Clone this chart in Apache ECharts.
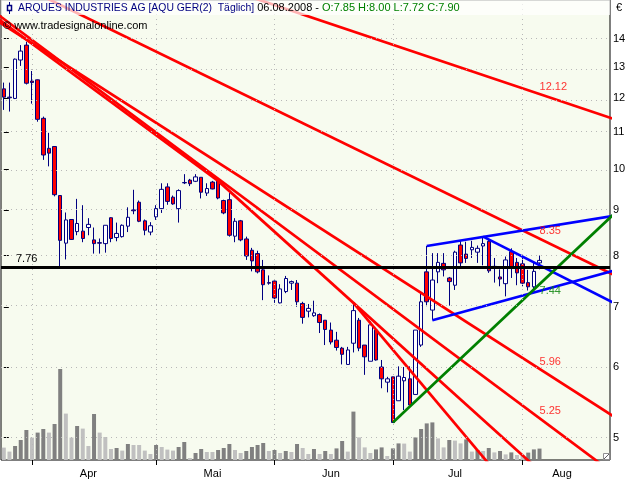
<!DOCTYPE html>
<html><head><meta charset="utf-8">
<script src="https://cdn.jsdelivr.net/npm/echarts@6/dist/echarts.min.js"></script>
<style>html,body{margin:0;padding:0;background:#fff}#c{width:640px;height:480px}</style>
</head><body><div id="c"></div>
<script>
// ---------- data ----------
const dates = [
'03-25','03-26','03-27','03-28','03-31',
'04-01','04-02','04-03','04-04','04-07','04-08','04-09','04-10','04-11','04-14','04-15','04-16','04-17','04-18','04-21','04-22','04-23','04-24','04-25','04-28','04-29','04-30',
'05-02','05-05','05-06','05-07','05-08','05-09','05-12','05-13','05-14','05-15','05-16','05-19','05-20','05-21','05-22','05-23','05-26','05-27','05-28','05-29','05-30',
'06-02','06-03','06-04','06-05','06-06','06-09','06-10','06-11','06-12','06-13','06-16','06-17','06-18','06-19','06-20','06-23','06-24','06-25','06-26','06-27','06-30',
'07-01','07-02','07-03','07-04','07-07','07-08','07-09','07-10','07-11','07-14','07-15','07-16','07-17','07-18','07-21','07-22','07-23','07-24','07-25','07-28','07-29','07-30','07-31',
'08-01','08-04','08-05','08-06',
'08-07','08-08','08-11','08-12','08-13','08-14','08-15','08-18','08-19','08-20','08-21','08-22'];

const opens = [12.30,12.04,12.00,13.25,13.77,12.55,12.59,11.40,10.55,10.60,
9.34,8.26,8.78,8.51,8.52,8.60,8.33,8.27,8.25,8.82,
8.38,8.40,8.63,9.00,9.18,8.75,8.50,8.84,9.03,9.55,
9.30,9.03,9.65,9.72,9.69,9.79,9.40,9.67,9.70,9.22,
9.24,8.41,8.75,8.35,8.11,8.04,7.71,7.46,7.49,7.08,
7.29,7.45,7.45,7.07,6.93,6.85,6.87,6.77,6.60,6.43,
6.30,6.04,6.38,6.77,6.35,6.09,6.60,6.00,5.77,5.85,
5.50,5.79,5.82,5.59,6.35,7.67,6.95,7.67,7.84,7.55,
7.41,8.22,8.03,8.12,8.07,8.20,8.30,7.78,7.57,7.44,
8.08,7.86,7.83,7.46,7.38,7.85];
const highs = [12.50,12.50,13.30,13.77,13.89,12.88,12.60,11.45,10.98,10.60,
9.34,8.94,8.78,9.26,9.11,8.81,8.60,8.36,8.65,8.83,
8.71,8.67,9.06,9.48,9.22,8.78,8.72,9.11,9.64,9.64,
9.34,9.49,9.87,9.75,9.87,9.79,9.64,9.70,9.70,9.24,
9.40,8.81,8.77,8.40,8.16,8.10,7.91,7.60,7.50,7.43,
7.59,7.50,7.51,7.10,7.06,7.12,6.89,6.77,6.73,6.57,
6.32,6.32,7.05,6.81,6.35,6.75,6.60,6.11,5.85,5.85,
6.01,6.00,6.01,6.60,7.26,8.20,8.05,8.05,8.05,7.57,
8.10,8.31,8.29,8.31,8.21,8.37,8.36,7.95,7.72,7.98,
8.15,7.95,7.95,7.71,7.85,8.00];
const lows = [11.65,11.60,11.98,13.05,12.44,11.84,11.30,10.24,10.07,9.32,
7.75,7.92,8.33,8.43,8.28,8.43,8.04,8.04,8.06,8.28,
8.30,8.38,8.50,8.90,8.72,8.43,8.43,8.77,8.93,9.12,
9.12,8.71,9.62,9.57,9.67,9.27,9.33,9.49,9.25,8.90,
8.40,8.28,8.30,7.91,7.68,7.64,7.13,7.42,7.08,7.07,
7.26,7.32,7.01,6.71,6.82,6.83,6.55,6.35,6.36,6.26,
6.04,6.04,6.23,6.25,5.88,6.09,6.10,5.68,5.62,5.20,
5.50,5.37,5.44,5.59,6.32,7.02,6.77,7.45,7.58,7.03,
7.32,7.73,7.85,7.95,7.85,7.80,7.65,7.46,7.39,7.20,
7.55,7.41,7.39,7.31,7.31,7.72];
const closes = [12.04,12.02,13.28,13.56,12.48,12.50,11.37,10.37,10.42,9.36,
8.32,8.77,8.34,8.69,8.36,8.67,8.25,8.26,8.65,8.36,
8.47,8.65,8.83,8.98,8.74,8.54,8.64,9.03,9.49,9.20,
9.14,9.46,9.66,9.63,9.80,9.42,9.51,9.50,9.28,8.93,
8.43,8.74,8.33,7.99,7.89,7.67,7.42,7.45,7.17,7.34,
7.54,7.48,7.10,6.82,6.98,6.90,6.73,6.61,6.40,6.31,
6.20,6.27,6.94,6.30,6.16,6.69,6.11,5.82,5.82,5.20,
5.86,5.84,5.44,6.60,7.10,7.10,7.51,7.86,7.71,7.48,
8.07,7.85,7.94,8.17,8.15,8.25,7.69,7.76,7.53,7.91,
7.74,7.65,7.45,7.38,7.68,7.90];
const volumes = [62,42,70,100,150,112,137,155,137,180,
455,232,112,170,157,70,230,137,115,55,
60,47,80,75,75,47,30,75,65,52,
47,65,90,10,35,55,40,40,50,60,
80,50,35,45,65,75,85,45,50,35,
45,40,80,60,30,55,30,45,30,58,
95,42,242,113,63,35,53,63,20,58,
83,82,42,113,155,183,188,108,63,100,
97,83,103,42,50,45,60,38,45,28,
38,25,23,37,53,57];

const priceTicks = [5,6,7,8,9,10,11,12,13,14];
const monthNames = {'04':'Apr','05':'Mai','06':'Jun','07':'Jul','08':'Aug'};
const monthLabelDates = ['04-15','05-16','06-16','07-16','08-12'];
const supportLevel = 7.76;

// trendlines: [bar index, price] anchor pairs
const redLines = [
  [[40,15.88],[108,11.39]],
  [[5,15.83],[108,7.62]],
  [[-1,14.64],[108,5.29]],
  [[-1,14.89],[108,4.566]],
  [[-1,14.74],[38,9.70]],
  [[38,9.70],[108,3.872]],
  [[62,7.08],[108,3.195]]
];
const blueLines = [
  [[75,8.20],[108,8.86]],
  [[85,8.40],[108,7.09]],
  [[76,6.77],[108,7.69]]
];
const greenLines = [
  [[69,5.20],[108,8.88]]
];
const redLabels = [12.12, 8.35, 5.96, 5.25];
const greenLabels = [7.44];
const lastBar = 95;

// ---------- chart ----------
const ln = Math.log;
const FONT = '"Liberation Sans", Arial, sans-serif';
const Y_MIN = ln(4.72), Y_MAX = ln(15.47);
const isMonthStart = (i) => i > 0 && dates[i].slice(0,2) !== dates[i-1].slice(0,2);
const boundaries = dates.filter((d,i)=>isMonthStart(i) && i <= lastBar + 1);

const candleData = opens.map((o,i)=>[ln(o), ln(closes[i]), ln(lows[i]), ln(highs[i])]);
const volData = volumes.map((v,i)=>({value:v, itemStyle:{color:(i>0 && v>volumes[i-1]) ? '#808080' : '#c0c0c0'}}));

function lineSeries(pts, color, width){
  return {type:'line', xAxisIndex:1, yAxisIndex:0, data: pts.map(p=>[p[0], ln(p[1])]),
    symbol:'none', silent:true, clip:true, z:4, animation:false,
    lineStyle:{color:color, width:width}};
}
const series = [];
series.push({type:'line', xAxisIndex:0, yAxisIndex:0, data:[], z:1, silent:true,
  markLine:{silent:true, symbol:['none','none'], animation:false, label:{show:false},
    lineStyle:{color:'#b8b8b8', type:[1,4], width:1},
    data:[...priceTicks.map(p=>({yAxis: ln(p)})), ...boundaries.map(d=>({xAxis:d}))]}});
series.push({type:'bar', xAxisIndex:0, yAxisIndex:1, data:volData, barWidth:4, z:2, silent:true, animation:false});
series.push({type:'candlestick', xAxisIndex:0, yAxisIndex:0, data:candleData, barWidth:4, z:3, silent:true, animation:false,
  itemStyle:{color:'#ffffff', color0:'#ff0000', borderColor:'#000080', borderColor0:'#000080', borderColorDoji:'#000080', borderWidth:1}});
redLines.forEach(l=>series.push(lineSeries(l,'#ff0000',2.7)));
blueLines.forEach(l=>series.push(lineSeries(l,'#0000ff',2.7)));
greenLines.forEach(l=>series.push(lineSeries(l,'#008000',2.7)));
series.push({type:'line', xAxisIndex:0, yAxisIndex:0, data:[], z:4, silent:true,
  markLine:{silent:true, symbol:['none','none'], animation:false,
    lineStyle:{color:'#000', type:'solid', width:3},
    label:{show:true, position:'insideStartTop', formatter: String(supportLevel), color:'#000', fontSize:11, fontFamily:FONT, distance:[15,2]},
    data:[{yAxis: ln(supportLevel)}]}});
series.push({type:'scatter', xAxisIndex:1, yAxisIndex:0, symbolSize:0, z:5, silent:true, animation:false,
  data: redLabels.map(v=>({value:[lastBar, ln(v)], label:{formatter: v.toFixed(2)}})),
  label:{show:true, position:[0,-13], color:'#ff0000', fontSize:11, fontFamily:FONT}});
series.push({type:'scatter', xAxisIndex:1, yAxisIndex:0, symbolSize:0, z:5, silent:true, animation:false,
  data: greenLabels.map(v=>({value:[lastBar, ln(v)], label:{formatter: v.toFixed(2)}})),
  label:{show:true, position:[0,2], color:'#008000', fontSize:11, fontFamily:FONT}});

const L = lastBar;
const ohlc = 'O:'+opens[L].toFixed(2)+' H:'+highs[L].toFixed(2)+' L:'+lows[L].toFixed(2)+' C:'+closes[L].toFixed(2);

const option = {
  animation:false,
  backgroundColor:'#ffffff',
  grid:{left:1, top:0, width:609, height:460, show:true, backgroundColor:'#f7fbef', borderColor:'#000', borderWidth:1, containLabel:false, outerBoundsMode:'none'},
  xAxis:[
    {type:'category', data:dates, gridIndex:0, boundaryGap:true,
      axisLine:{show:false},
      axisTick:{show:true, alignWithLabel:true, length:5, interval:(i)=>isMonthStart(i), lineStyle:{color:'#000'}},
      axisLabel:{show:true, interval:(i,v)=>monthLabelDates.indexOf(v)>=0, formatter:(v)=>monthNames[v.slice(0,2)]||'', color:'#000', fontSize:11, fontFamily:FONT, margin:8},
      splitLine:{show:false}},
    {type:'value', gridIndex:0, min:-0.5, max:dates.length-0.5, show:false}
  ],
  yAxis:[
    {type:'value', gridIndex:0, position:'right', min:Y_MIN, max:Y_MAX, scale:true,
      axisLine:{show:false},
      axisTick:{show:true, length:5, inside:false, customValues: priceTicks.map(p=>ln(p)), lineStyle:{color:'#000'}},
      axisLabel:{show:true, customValues: priceTicks.map(p=>ln(p)), formatter:(v)=>String(Math.round(Math.exp(v))), color:'#000', fontSize:11, fontFamily:FONT, margin:3},
      splitLine:{show:false}},
    {type:'value', gridIndex:0, min:0, max:2300, show:false}
  ],
  series: series,
  graphic:[
    {type:'rect', shape:{x:1,y:0,width:609,height:15}, style:{fill:'rgba(255,255,255,0.7)'}, z:100, silent:true},
    {type:'line', shape:{x1:9.5,y1:2,x2:9.5,y2:14}, style:{stroke:'#000080', lineWidth:1}, z:101, silent:true},
    {type:'rect', shape:{x:7.5,y:5.5,width:4,height:5}, style:{fill:'#ffffff', stroke:'#000080', lineWidth:1.5}, z:102, silent:true},
    {type:'text', x:18, y:8, z:101, silent:true, style:{
      text:'{a|ARQUES INDUSTRIES AG [AQU GER(2)  Täglich]}{b| '+'06.08.2008'+' - }{c|'+ohlc+'}',
      verticalAlign:'middle', font:'11px '+FONT,
      rich:{a:{fill:'#000080', font:'10.4px '+FONT}, b:{fill:'#000000', font:'11px '+FONT}, c:{fill:'#008000', font:'11px '+FONT}}}},
    {type:'text', x:3, y:26, z:101, silent:true, style:{text:'© www.tradesignalonline.com', fill:'#000', font:'11px '+FONT, verticalAlign:'middle'}},
    {type:'text', x:616, y:8, z:101, silent:true, style:{text:'€', fill:'#000', font:'11px '+FONT, verticalAlign:'middle'}},
    {type:'rect', shape:{x:603.5,y:453.5,width:6,height:6}, style:{fill:'#ffffff', stroke:'#909090', lineWidth:1}, z:101, silent:true},
    {type:'line', shape:{x1:604,y1:459,x2:609,y2:454}, style:{stroke:'#606060', lineWidth:1}, z:102, silent:true}
  ]
};
const chart = echarts.init(document.getElementById('c'), null, {renderer:'canvas'});
chart.setOption(option);
</script>
</body></html>
